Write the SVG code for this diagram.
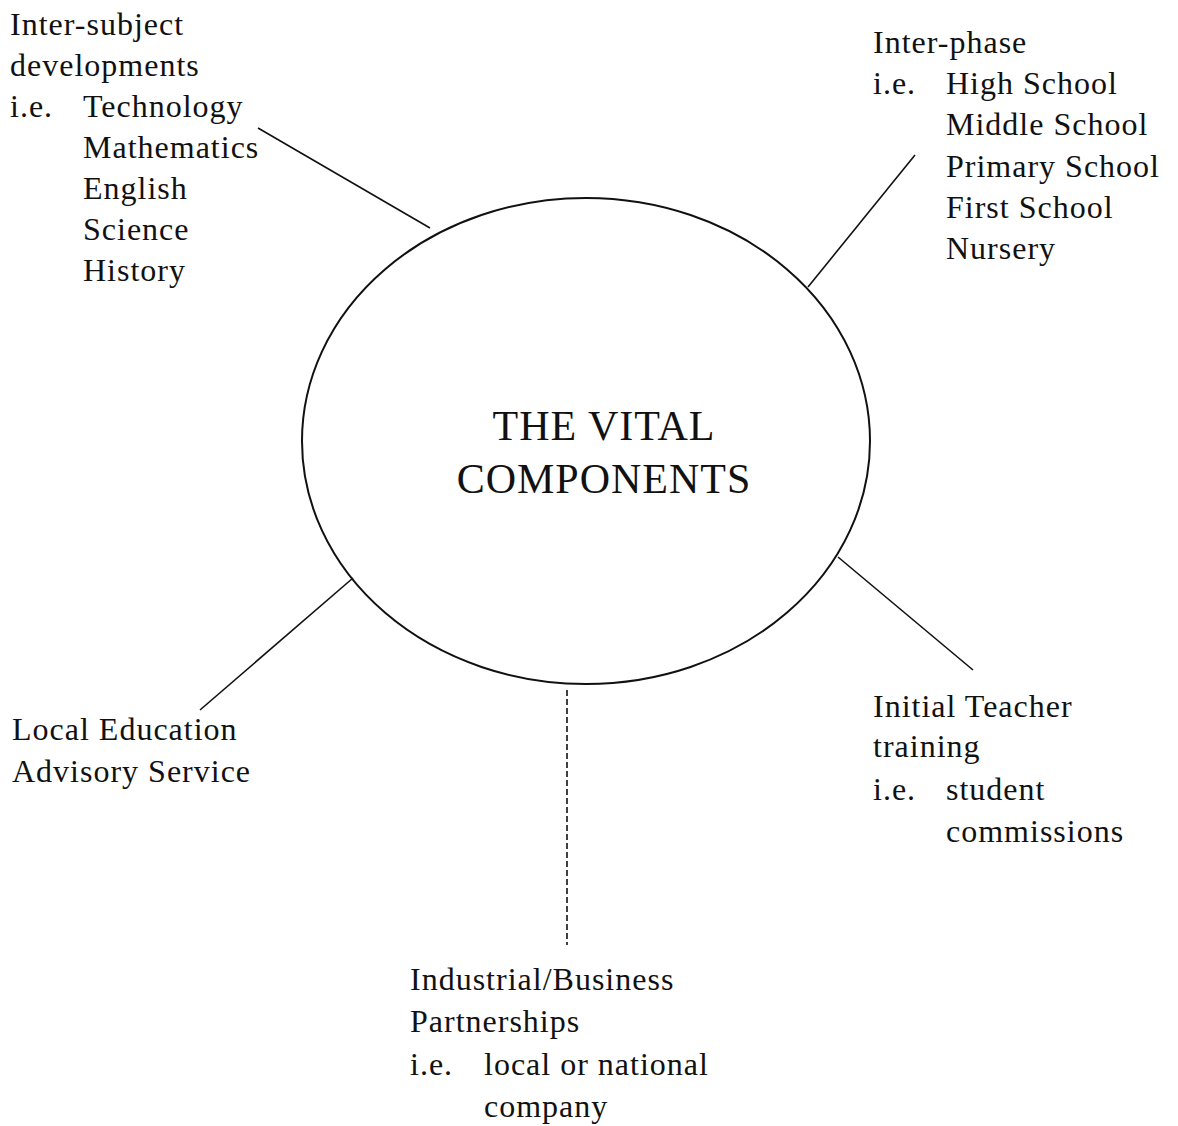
<svg xmlns="http://www.w3.org/2000/svg" width="1178" height="1126" viewBox="0 0 1178 1126">
<style>
text{font-family:"Liberation Serif","Times New Roman",serif;fill:#111;}
.t{font-size:32px;letter-spacing:1px}
.c{font-size:42px;text-anchor:middle;letter-spacing:1px}
.ln{stroke:#111;stroke-width:1.6;fill:none}
</style>
<rect width="1178" height="1126" fill="#fff"/>
<g id="connectors">
<line class="ln" x1="258" y1="128" x2="430" y2="228"/>
<line class="ln" x1="915" y1="155" x2="808" y2="287"/>
<line class="ln" x1="838" y1="557" x2="973" y2="670"/>
<line class="ln" x1="353" y1="578" x2="200" y2="710"/>
<line class="ln" x1="567" y1="690" x2="567" y2="945" stroke-dasharray="6 3"/>
</g>
<g id="center">
<ellipse cx="586" cy="441" rx="284" ry="243" fill="none" stroke="#111" stroke-width="2"/>
<text class="c" x="604" y="440">THE VITAL</text>
<text class="c" x="604" y="493">COMPONENTS</text>
</g>
<g id="inter-subject">
<text class="t" x="10" y="35">Inter-subject</text>
<text class="t" x="10" y="76">developments</text>
<text class="t" x="10" y="117">i.e.</text>
<text class="t" x="83" y="117">Technology</text>
<text class="t" x="83" y="158">Mathematics</text>
<text class="t" x="83" y="199">English</text>
<text class="t" x="83" y="240">Science</text>
<text class="t" x="83" y="281">History</text>
</g>
<g id="inter-phase">
<text class="t" x="873" y="53">Inter-phase</text>
<text class="t" x="873" y="94">i.e.</text>
<text class="t" x="946" y="94">High School</text>
<text class="t" x="946" y="135">Middle School</text>
<text class="t" x="946" y="177">Primary School</text>
<text class="t" x="946" y="218">First School</text>
<text class="t" x="946" y="259">Nursery</text>
</g>
<g id="itt">
<text class="t" x="873" y="717">Initial Teacher</text>
<text class="t" x="873" y="757">training</text>
<text class="t" x="873" y="800">i.e.</text>
<text class="t" x="946" y="800">student</text>
<text class="t" x="946" y="842">commissions</text>
</g>
<g id="leas">
<text class="t" x="12" y="740">Local Education</text>
<text class="t" x="12" y="782">Advisory Service</text>
</g>
<g id="industry">
<text class="t" x="410" y="990">Industrial/Business</text>
<text class="t" x="410" y="1032">Partnerships</text>
<text class="t" x="410" y="1075">i.e.</text>
<text class="t" x="484" y="1075">local or national</text>
<text class="t" x="484" y="1117">company</text>
</g>
</svg>
